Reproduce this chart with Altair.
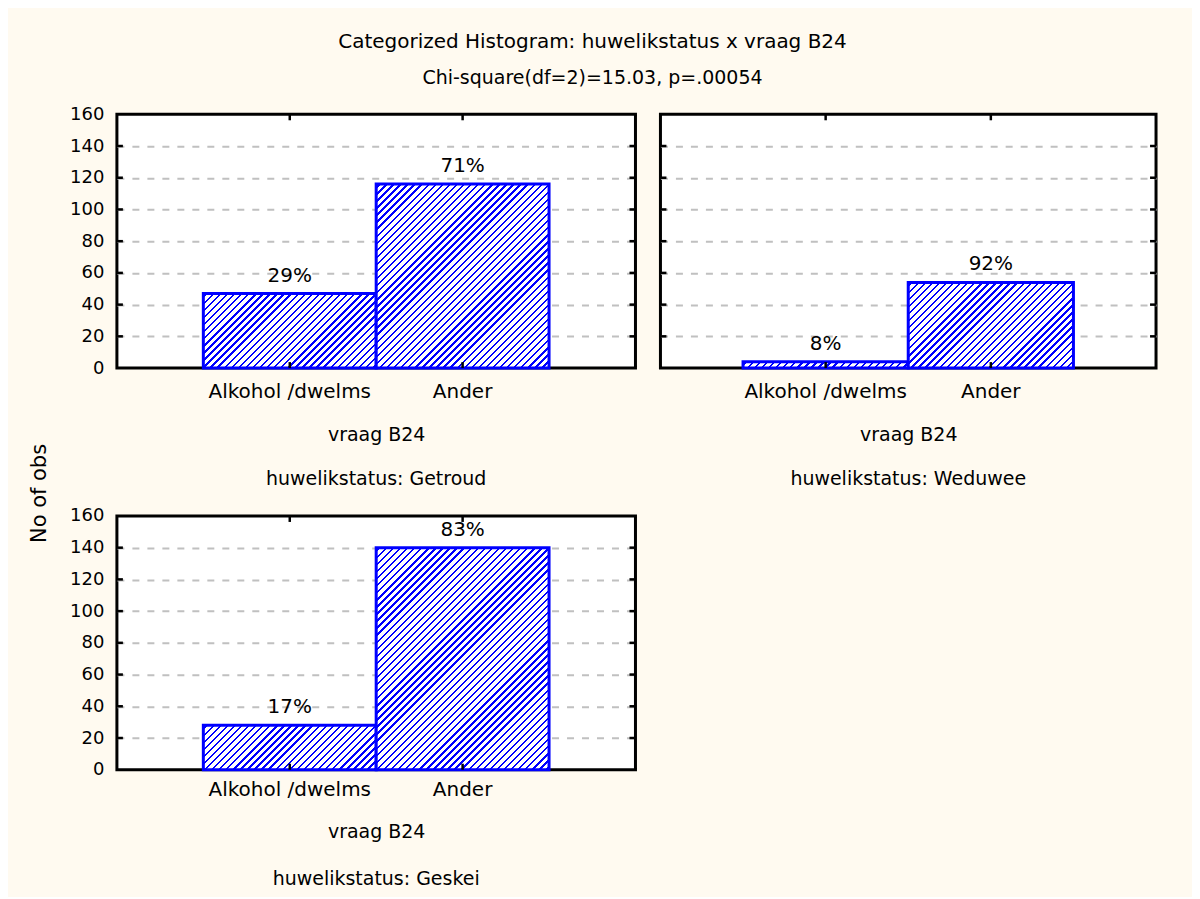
import math
import altair as alt
import pandas as pd

# ---- data ----
categories = ["Alkohol /dwelms", "Ander"]
getroud_counts = [47, 116]
weduwee_counts = [4, 54]
geskei_counts = [28, 140]
getroud_pct = ["29%", "71%"]
weduwee_pct = ["8%", "92%"]
geskei_pct = ["17%", "83%"]
y_ticks = [0, 20, 40, 60, 80, 100, 120, 140, 160]
inner_ticks = [20, 40, 60, 80, 100, 120, 140]

TITLE = "Categorized Histogram: huwelikstatus x vraag B24"
SUBTITLE = "Chi-square(df=2)=15.03, p=.00054"
FONT = "DejaVu Sans"
BLUE = "#0000ff"
PH = 254          # plot height of each panel
YMAX = 160
TL = 6            # inward tick length


def hatch(w, h, period=5.0, line=1.7):
    """45-degree '////' hatch as a hard-stop linear gradient (bbox units)."""
    s = (w + h) / (w * w + h * h)
    d = (w + h) / math.sqrt(2)
    stops = [{"offset": 0, "color": "#ffffff"}]
    c = period / 2
    while c - line / 2 < d:
        a = max(0.0, (c - line / 2) / d)
        b = min(1.0, (c + line / 2) / d)
        stops += [
            {"offset": round(a, 5), "color": "#ffffff"},
            {"offset": round(a, 5), "color": BLUE},
            {"offset": round(b, 5), "color": BLUE},
            {"offset": round(b, 5), "color": "#ffffff"},
        ]
        c += period
    stops.append({"offset": 1, "color": "#ffffff"})
    return {"gradient": "linear", "x1": 0, "y1": 0,
            "x2": round(s * w, 5), "y2": round(s * h, 5), "stops": stops}


def panel(counts, pcts, title, width, y_labels, y_title,
          label_pad, title_pad, head_off):
    df = pd.DataFrame({"cat": categories, "n": counts, "pct": pcts})
    base = alt.Chart(df)
    x_enc = alt.X(
        "cat:N", sort=categories,
        scale=alt.Scale(domain=categories, paddingInner=0, paddingOuter=0.5),
        axis=alt.Axis(title="vraag B24", labelAngle=0, ticks=False, tickSize=0,
                      domain=False, labelPadding=label_pad,
                      titlePadding=title_pad),
    )
    y_axis = dict(values=y_ticks, grid=True, gridDash=[7, 8], gridWidth=2,
                  gridColor={"condition": {"test": "datum.value == 0 || datum.value == 160",
                                           "value": "transparent"},
                             "value": "#c0c0c0"},
                  ticks=False, tickSize=0, domain=False, labels=y_labels,
                  labelPadding=13)
    if y_title:
        y_axis.update(title="No of obs", titleX=-71, titleY=-23, titleAngle=270,
                      titleAlign="center", titleBaseline="alphabetic",
                      titleFontSize=21)
    else:
        y_axis.update(title=None)
    y_enc = alt.Y("n:Q", scale=alt.Scale(domain=[0, YMAX], nice=False),
                  axis=alt.Axis(**y_axis))
    layers = []
    for cat, n in zip(categories, counts):
        g = hatch(width / 3.0, n * PH / YMAX)
        layers.append(
            base.transform_filter(alt.datum.cat == cat)
            .mark_bar(fill=g, stroke=BLUE, strokeWidth=3)
            .encode(x=x_enc, y=y_enc)
        )
    layers.append(
        base.mark_text(baseline="alphabetic", dy=-12, fontSize=20, font=FONT,
                       color="#000000")
        .encode(x=x_enc, y=y_enc, text="pct:N")
    )
    # small inward ticks on the frame (left/right at the y steps, top/bottom at categories)
    yt = alt.Chart(pd.DataFrame({"n": inner_ticks}))
    for xv in (TL / 2, width - TL / 2):
        layers.append(
            yt.mark_tick(orient="horizontal", color="#000000", size=TL,
                         thickness=2.5, opacity=1)
            .encode(y=y_enc, x=alt.value(xv))
        )
    ct = alt.Chart(pd.DataFrame({"cat": categories}))
    for yv in (TL / 2, PH - TL / 2):
        layers.append(
            ct.mark_tick(orient="vertical", color="#000000", size=TL,
                         thickness=2.5, opacity=1)
            .encode(x=x_enc, y=alt.value(yv))
        )
    return alt.layer(*layers).properties(
        width=width, height=PH,
        title=alt.TitleParams(title, orient="bottom", fontSize=19, font=FONT,
                              fontWeight="normal", color="#000000",
                              offset=head_off),
    )


p1 = panel(getroud_counts, getroud_pct, "huwelikstatus: Getroud", 519,
           True, False, 13, 24, 26)
p2 = panel(weduwee_counts, weduwee_pct, "huwelikstatus: Weduwee", 496,
           False, False, 13, 24, 26)
p3 = panel(geskei_counts, geskei_pct, "huwelikstatus: Geskei", 519,
           True, True, 10, 23, 28)

chart = (
    alt.concat(p1, p2, p3, columns=2, spacing={"row": 148, "column": 25},
               bounds="flush")
    .properties(
        title=alt.TitleParams(TITLE, subtitle=SUBTITLE, fontSize=20,
                              subtitleFontSize=19, font=FONT, subtitleFont=FONT,
                              fontWeight="normal", color="#000000",
                              subtitleColor="#000000", anchor="middle",
                              offset=16, subtitlePadding=17),
        padding={"left": 19, "top": 23, "right": 34, "bottom": 6},
        background="#fffaf0",
    )
    .configure_view(fill="#ffffff", stroke="#000000", strokeWidth=3)
    .configure_axis(labelFont=FONT, titleFont=FONT, labelFontSize=18,
                    titleFontSize=19, titleFontWeight="normal",
                    labelColor="#000000", titleColor="#000000")
    .configure_axisX(labelFontSize=20)
)

chart.save("out.html", embed_options={"renderer": "svg", "actions": False})
